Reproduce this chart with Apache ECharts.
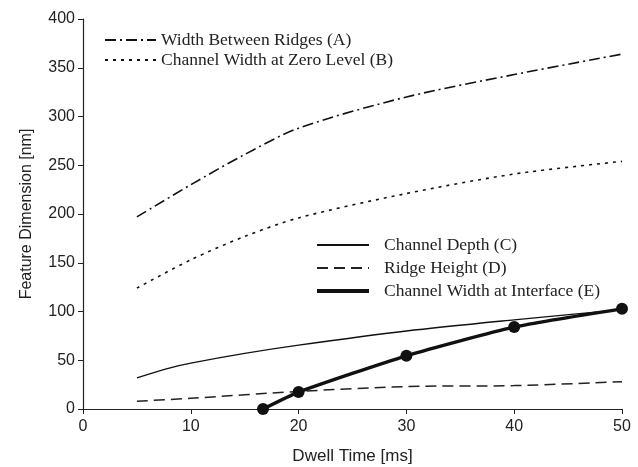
<!DOCTYPE html>
<html><head><meta charset="utf-8">
<script src="https://cdn.jsdelivr.net/npm/echarts@6/dist/echarts.min.js"></script>
<style>html,body{margin:0;padding:0;background:#fff}#c{width:638px;height:467px}</style>
</head><body><div id="c"></div>
<script>
var xA = [5, 10, 15, 20, 30, 40, 50];
var valA = [197, 230, 261, 288, 320, 343, 364];
var xB = [5, 10, 15, 20, 30, 40, 50];
var valB = [124, 153, 177, 196, 221, 241, 254];
var xC = [5, 8, 10, 15, 20, 30, 40, 50];
var valC = [32, 42, 47, 57, 65.5, 80, 91.5, 102];
var xD = [5, 10, 20, 30, 40, 50];
var valD = [8, 11, 18, 23, 24, 28];
var xE = [16.7, 20, 30, 40, 50];
var valE = [0, 17.4, 54.6, 84, 102.7];
var names = ['Width Between Ridges (A)', 'Channel Width at Zero Level (B)', 'Channel Depth (C)', 'Ridge Height (D)', 'Channel Width at Interface (E)'];
var xTicks = [0, 10, 20, 30, 40, 50];
var yTicks = [0, 50, 100, 150, 200, 250, 300, 350, 400];

function pairs(xs, ys){ return xs.map(function(x,i){return [x, ys[i]];}); }

var chart = echarts.init(document.getElementById('c'));
var legText1 = {fontFamily:'Liberation Serif', fontSize:17.5, color:'#222'};
var legText2 = {fontFamily:'Liberation Serif', fontSize:17.5, color:'#222', padding:[0,0,0,10]};
var sans = {fontFamily:'Liberation Sans', fontSize:16, color:'#222'};
chart.setOption({
  animation:false,
  grid:{left:83, right:16, top:19, bottom:58, containLabel:false, outerBoundsMode:'none'},
  xAxis:{type:'value', min:0, max:50, interval:10,
    name:'Dwell Time [ms]', nameLocation:'middle', nameGap:39,
    nameTextStyle:{fontFamily:'Liberation Sans', fontSize:17, color:'#222'},
    axisLine:{lineStyle:{color:'#222', width:1.2}},
    axisTick:{show:true, inside:false, length:5, lineStyle:{color:'#222'}},
    axisLabel:Object.assign({margin:10}, sans),
    splitLine:{show:false}},
  yAxis:{type:'value', min:0, max:400, interval:50,
    name:'Feature Dimension [nm]', nameLocation:'middle', nameGap:48, nameRotate:90,
    nameTextStyle:{fontFamily:'Liberation Sans', fontSize:16, color:'#222'},
    axisLine:{show:true, lineStyle:{color:'#222', width:1.2}},
    axisTick:{show:true, inside:false, length:5, lineStyle:{color:'#222'}},
    axisLabel:Object.assign({margin:8}, sans),
    splitLine:{show:false}},
  legend:[
    {data:[names[0], names[1]], orient:'vertical', left:99, top:26, itemWidth:51, itemHeight:10, itemGap:2, textStyle:legText1, itemStyle:{opacity:0}},
    {data:[names[2], names[3], {name:names[4], lineStyle:{width:4}}], orient:'vertical', left:310, top:231, itemWidth:52, itemHeight:10, itemGap:5, textStyle:legText2, itemStyle:{opacity:0}}
  ],
  series:[
    {name:names[0], type:'line', smooth:0.3, showSymbol:false, symbol:'none', data:pairs(xA,valA), lineStyle:{color:'#111', width:1.6, type:[11,4,2,4]}, itemStyle:{color:'#111'}},
    {name:names[1], type:'line', smooth:0.3, showSymbol:false, symbol:'none', data:pairs(xB,valB), lineStyle:{color:'#111', width:1.6, type:[3,5]}, itemStyle:{color:'#111'}},
    {name:names[2], type:'line', smooth:0.3, showSymbol:false, symbol:'none', data:pairs(xC,valC), lineStyle:{color:'#111', width:1.3, type:'solid'}, itemStyle:{color:'#111'}},
    {name:names[3], type:'line', smooth:0.3, showSymbol:false, symbol:'none', data:pairs(xD,valD), lineStyle:{color:'#222', width:1.5, type:[11,6]}, itemStyle:{color:'#222'}},
    {name:names[4], type:'line', smooth:0.2, symbol:'circle', symbolSize:12, data:pairs(xE,valE), lineStyle:{color:'#111', width:3.4}, itemStyle:{color:'#111'}}
  ]
});
</script></body></html>
